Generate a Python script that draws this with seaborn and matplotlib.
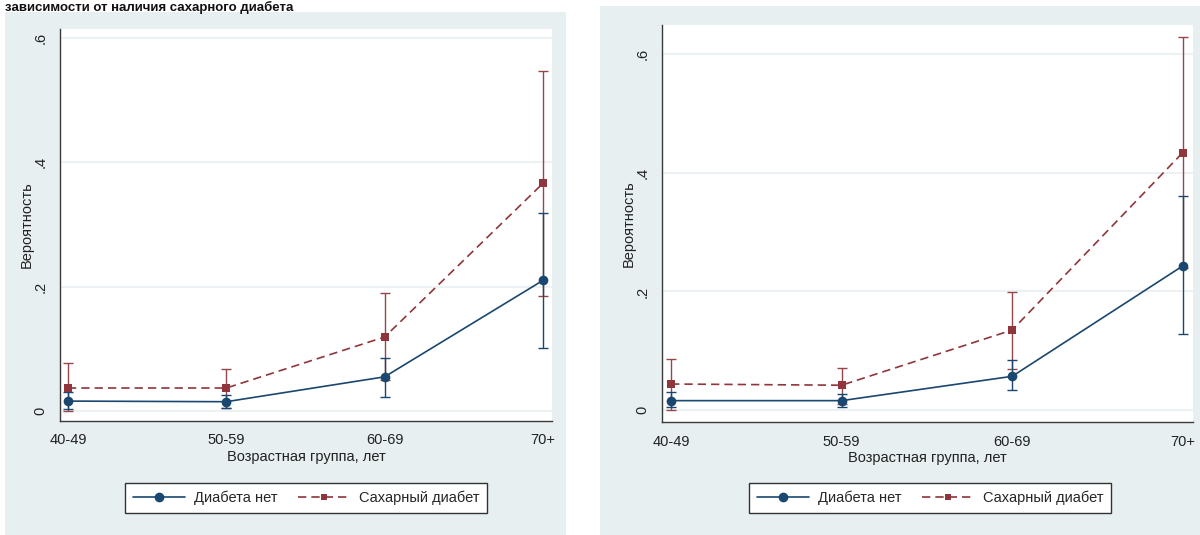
import numpy as np
import pandas as pd
import matplotlib
matplotlib.use("Agg")
import matplotlib.pyplot as plt
from matplotlib.patches import Rectangle
from matplotlib.lines import Line2D
import seaborn as sns

# ---------------- data ----------------
age_groups = ["40-49", "50-59", "60-69", "70+"]
series_names = ["Диабета нет", "Сахарный диабет"]

# left panel
left_no = [0.016, 0.015, 0.055, 0.210]
left_no_lo = [0.003, 0.005, 0.023, 0.102]
left_no_hi = [0.030, 0.025, 0.085, 0.319]
left_dm = [0.037, 0.037, 0.119, 0.366]
left_dm_lo = [0.000, 0.005, 0.050, 0.185]
left_dm_hi = [0.078, 0.068, 0.189, 0.547]

# right panel
right_no = [0.016, 0.016, 0.057, 0.243]
right_no_lo = [0.005, 0.005, 0.034, 0.128]
right_no_hi = [0.030, 0.027, 0.084, 0.360]
right_dm = [0.044, 0.042, 0.135, 0.434]
right_dm_lo = [0.000, 0.010, 0.070, 0.240]
right_dm_hi = [0.086, 0.071, 0.199, 0.628]

y_ticks = [0, 0.2, 0.4, 0.6]
y_ticklabels = ["0", ".2", ".4", ".6"]
x_title = "Возрастная группа, лет"
y_title = "Вероятность"
top_text = "зависимости от наличия сахарного диабета"

# ---------------- style ----------------
sns.set_style("white")
FONT = ["Liberation Sans", "DejaVu Sans"]
plt.rcParams["font.family"] = FONT

NAVY = "#1a476f"
MAROON = "#90353b"
EB_MAROON = "#94464b"
BG = "#e7eff1"
GRID = "#e9f0f2"
AX = "#3a3a3a"

fig = plt.figure(figsize=(12, 5.35), dpi=100)
W, H = 1200.0, 535.0

# panel backgrounds
fig.patches.append(Rectangle((5 / W, 0), 561 / W, (H - 12) / H, transform=fig.transFigure,
                             facecolor=BG, edgecolor="none", zorder=-10))
fig.patches.append(Rectangle((600 / W, 0), 600 / W, (H - 6) / H, transform=fig.transFigure,
                             facecolor=BG, edgecolor="none", zorder=-10))

fig.text(5 / W, 1 - 1 / H, top_text, fontsize=9.5, fontweight="bold",
         family=["Liberation Sans", "DejaVu Sans"], va="top", ha="left", color="#111111",
         zorder=5)


def make_panel(rect, xlim, ylim, no, no_lo, no_hi, dm, dm_lo, dm_hi, legend_center):
    ax = fig.add_axes(rect)
    ax.set_facecolor("white")
    df = pd.DataFrame({
        "x": list(range(len(age_groups))) * 2,
        "y": list(no) + list(dm),
        "grp": [series_names[0]] * len(no) + [series_names[1]] * len(dm),
    })
    xs = np.arange(len(age_groups))
    # CI bars
    ax.errorbar(xs, dm, yerr=[np.array(dm) - np.array(dm_lo), np.array(dm_hi) - np.array(dm)],
                fmt="none", ecolor=EB_MAROON, elinewidth=1.0, capsize=3.5, capthick=1.0, zorder=2)
    ax.errorbar(xs, no, yerr=[np.array(no) - np.array(no_lo), np.array(no_hi) - np.array(no)],
                fmt="none", ecolor=NAVY, elinewidth=1.0, capsize=3.5, capthick=1.0, zorder=2)
    sns.lineplot(data=df, x="x", y="y", hue="grp", style="grp",
                 palette={series_names[0]: NAVY, series_names[1]: MAROON},
                 dashes={series_names[0]: "", series_names[1]: (5, 3)},
                 markers={series_names[0]: "o", series_names[1]: "s"},
                 markersize=7, markeredgewidth=0, linewidth=1.2, ax=ax, legend=False, zorder=3)
    # make squares a bit smaller, as in the reference
    for ln in ax.get_lines():
        if ln.get_marker() == "s":
            ln.set_markersize(5.5)
    ax.set_xlim(*xlim)
    ax.set_ylim(*ylim)
    ax.set_xticks(xs)
    ax.set_xticklabels(age_groups, fontsize=10.5)
    ax.set_yticks(y_ticks)
    ax.set_yticklabels(y_ticklabels, fontsize=10.5, rotation=90, va="center")
    ax.grid(True, axis="y", color=GRID, linewidth=1.2)
    ax.set_axisbelow(True)
    for s in ["top", "right"]:
        ax.spines[s].set_visible(False)
    for s in ["left", "bottom"]:
        ax.spines[s].set_color(AX)
        ax.spines[s].set_linewidth(1.0)
    ax.tick_params(axis="both", which="major", direction="out", length=5, width=1.0,
                   color=AX, labelcolor="#222222", pad=4)
    ax.set_xlabel(x_title, fontsize=10.5, color="#222222", labelpad=2)
    ax.set_ylabel(y_title, fontsize=10.5, color="#222222", labelpad=0)
    handles = [
        Line2D([], [], color=NAVY, linestyle="-", linewidth=1.2, marker="o", markersize=7,
               markeredgewidth=0),
        Line2D([], [], color=MAROON, linestyle=(0, (5, 3)), linewidth=1.2, marker="s",
               markersize=5, markeredgewidth=0),
    ]
    leg = fig.legend(handles, series_names, loc="center", bbox_to_anchor=legend_center,
                     bbox_transform=fig.transFigure, ncol=2, frameon=True, fancybox=False,
                     edgecolor="#333333", framealpha=1, fontsize=10.5, handlelength=3.6,
                     columnspacing=1.4, handletextpad=0.6, borderpad=0.5)
    leg.get_frame().set_linewidth(1.0)
    return ax


make_panel([60 / W, (H - 421) / H, (552 - 60) / W, (421 - 29) / H],
           (-0.05, 3.057), (-0.016, 0.614),
           left_no, left_no_lo, left_no_hi, left_dm, left_dm_lo, left_dm_hi,
           (306 / W, 1 - 498 / H))
make_panel([662 / W, (H - 422) / H, (1193 - 662) / W, (422 - 25) / H],
           (-0.053, 3.06), (-0.020, 0.649),
           right_no, right_no_lo, right_no_hi, right_dm, right_dm_lo, right_dm_hi,
           (930 / W, 1 - 498 / H))

fig.savefig("out.png", dpi=100, facecolor="white")
